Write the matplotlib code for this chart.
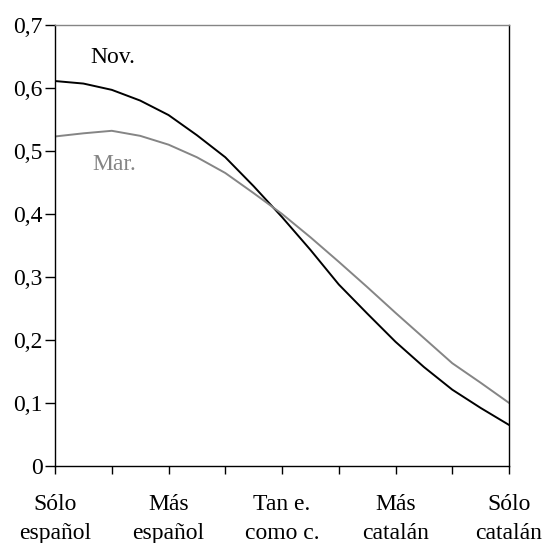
import numpy as np
import matplotlib
matplotlib.use('Agg')
import matplotlib.pyplot as plt

plt.rcParams['font.family'] = ['Liberation Serif', 'DejaVu Serif']

# 17 points along the scale, 5 labelled categories
pos = np.arange(17) / 2.0
nov = [0.611, 0.607, 0.597, 0.580, 0.557, 0.525, 0.490, 0.444, 0.395,
       0.343, 0.288, 0.242, 0.197, 0.157, 0.121, 0.092, 0.065]
mar = [0.523, 0.528, 0.532, 0.524, 0.510, 0.490, 0.465, 0.433, 0.400,
       0.363, 0.324, 0.284, 0.243, 0.203, 0.163, 0.132, 0.100]
categories = ['Sólo\nespañol', 'Más\nespañol', 'Tan e.\ncomo c.',
              'Más\ncatalán', 'Sólo\ncatalán']
yticks = [0, 0.1, 0.2, 0.3, 0.4, 0.5, 0.6, 0.7]
ylabels = ['0', '0,1', '0,2', '0,3', '0,4', '0,5', '0,6', '0,7']

gray = '#858585'
fs = 17

fig = plt.figure(figsize=(5.45, 5.43), dpi=100)
ax = fig.add_axes([0.101, 0.142, 0.833, 0.812])

ax.plot(pos, nov, color='black', lw=1.4)
ax.plot(pos, mar, color=gray, lw=1.4)

ax.text(1.02, 0.649, 'Nov.', fontsize=fs, color='black', ha='center', va='center')
ax.text(1.04, 0.478, 'Mar.', fontsize=fs, color=gray, ha='center', va='center')

ax.set_xlim(0, 8)
ax.set_ylim(0, 0.7)
ax.set_xticks(range(9))
ax.set_xticklabels([categories[i // 2] if i % 2 == 0 else '' for i in range(9)],
                   fontsize=fs, linespacing=1.5)
ax.set_yticks(yticks)
ax.set_yticklabels(ylabels, fontsize=fs)
ax.tick_params(axis='x', direction='out', length=6, width=1, pad=14)
ax.tick_params(axis='y', direction='out', length=7, width=1, pad=2)

for s in ['left', 'bottom', 'right']:
    ax.spines[s].set_color('black')
    ax.spines[s].set_linewidth(1)
ax.spines['top'].set_color(gray)
ax.spines['top'].set_linewidth(1)

fig.savefig('out.png', dpi=100)
